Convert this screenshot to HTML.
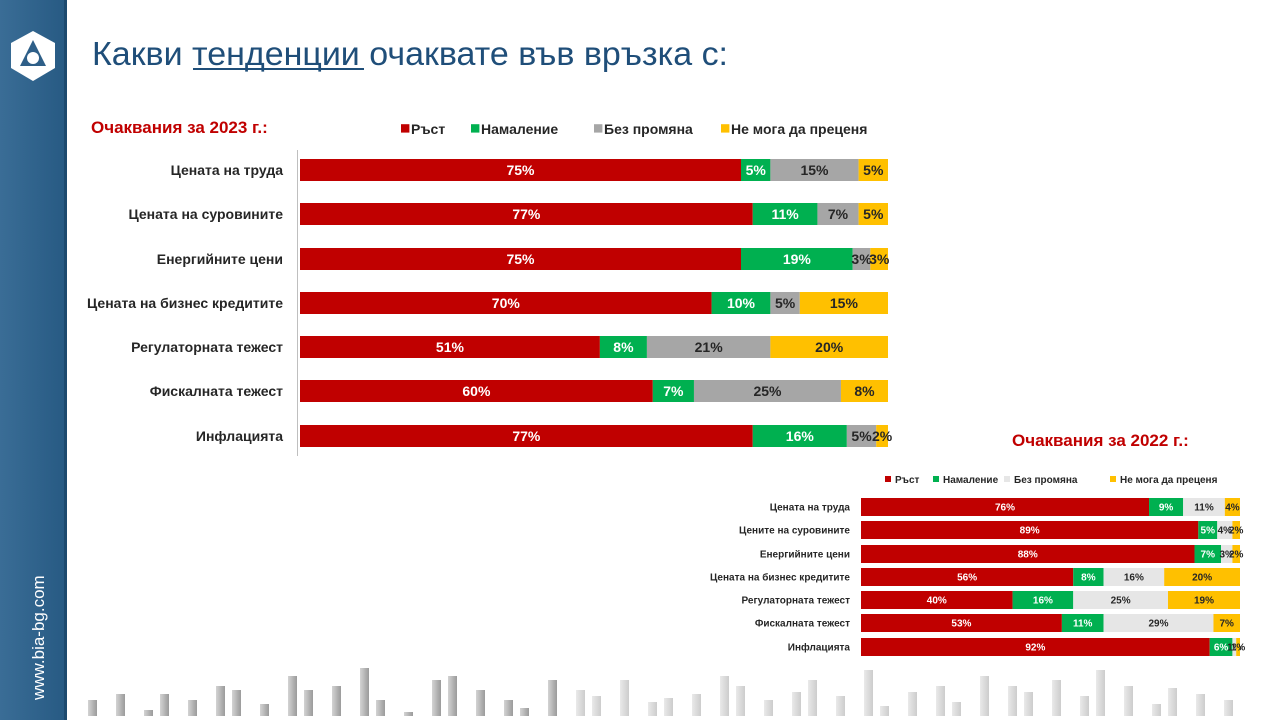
<!DOCTYPE html>
<html><head><meta charset="utf-8"><style>
body{margin:0;width:1280px;height:720px;overflow:hidden;background:#fff;font-family:"Liberation Sans","DejaVu Sans",sans-serif}
</style></head><body>
<svg width="1280" height="720" xmlns="http://www.w3.org/2000/svg" font-family="Liberation Sans, DejaVu Sans, sans-serif">
<defs>
<linearGradient id="sb" x1="0" x2="1"><stop offset="0" stop-color="#3a6d96"/><stop offset="1" stop-color="#275a83"/></linearGradient>
<linearGradient id="gb" x1="0" x2="1"><stop offset="0" stop-color="#cfcfcf"/><stop offset="1" stop-color="#8f8f8f"/></linearGradient>
</defs>
<rect x="0" y="0" width="66" height="720" fill="url(#sb)"/>
<rect x="64" y="0" width="3" height="720" fill="#1d4a6e"/>
<polygon points="33,31 55,43 55,68 33,81 11,68 11,43" fill="#fff"/>
<polygon points="33,40 46,66 20,66" fill="#2e5f88"/>
<circle cx="33" cy="58" r="6" fill="#fff"/>
<text transform="translate(44,700) rotate(-90)" font-size="17" fill="#fff">www.bia-bg.com</text>
<text x="92" y="65" font-size="33" fill="#1f4e79" textLength="636" lengthAdjust="spacingAndGlyphs">Какви тенденции очаквате във връзка с:</text>
<rect x="193" y="68" width="171" height="2" fill="#1f4e79"/>
<text x="91" y="133" font-size="17" font-weight="bold" fill="#c00000">Очаквания за 2023 г.:</text>
<text x="1012" y="446" font-size="17" font-weight="bold" fill="#c00000">Очаквания за 2022 г.:</text>
<g id="deco"></g>
<g id="top"></g>
<g id="bot"></g>
</svg>
<script>
var NS="http://www.w3.org/2000/svg";
function el(p,t,a,txt){var e=document.createElementNS(NS,t);for(var k in a)e.setAttribute(k,a[k]);if(txt!=null)e.textContent=txt;p.appendChild(e);return e;}
var cols=["#c00000","#00b050","#a6a6a6","#ffc000"];
function chart(g,x0,w,ys,h,labels,data,fs,gray,lx,leg,legy){
 var G=document.getElementById(g);
 var lc=cols.slice();lc[2]=gray;
 var names=["Ръст","Намаление","Без промяна","Не мога да преценя"];
 for(var i=0;i<4;i++){el(G,"rect",{x:leg[i]-10,y:legy-fs*0.7,width:fs*0.6,height:fs*0.6,fill:lc[i]});
  el(G,"text",{x:leg[i],y:legy,"font-size":fs,"font-weight":"bold",fill:"#262626"},names[i]);}
 for(var r=0;r<data.length;r++){var d=data[r],s=d.reduce(function(a,b){return a+b},0),x=x0;
  el(G,"text",{x:lx,y:ys[r]+fs*0.35,"font-size":fs,"font-weight":"bold",fill:"#262626","text-anchor":"end"},labels[r]);
  for(var i=0;i<4;i++){var ww=d[i]/s*w;
   el(G,"rect",{x:x,y:ys[r]-h/2,width:ww,height:h,fill:lc[i]});
   el(G,"text",{x:x+ww/2,y:ys[r]+fs*0.35,"font-size":fs,"font-weight":"bold","text-anchor":"middle",fill:(i<2?"#fff":"#262626")},d[i]+"%");
   x+=ww;}
 }
}
el(document.getElementById("top"),"rect",{x:297,y:150,width:1,height:306,fill:"#bfbfbf"});
chart("top",300,588,[170,214,259,303,347,391,436],22,
["Цената на труда","Цената на суровините","Енергийните цени","Цената на бизнес кредитите","Регулаторната тежест","Фискалната тежест","Инфлацията"],
[[75,5,15,5],[77,11,7,5],[75,19,3,3],[70,10,5,15],[51,8,21,20],[60,7,25,8],[77,16,5,2]],14,"#a6a6a6",283,[411,481,604,731],134);
chart("bot",861,379,[507,530,554,577,600,623,647],18,
["Цената на труда","Цените на суровините","Енергийните цени","Цената на бизнес кредитите","Регулаторната тежест","Фискалната тежест","Инфлацията"],
[[76,9,11,4],[89,5,4,2],[88,7,3,2],[56,8,16,20],[40,16,25,19],[53,11,29,7],[92,6,1,1]],10,"#e6e6e6",850,[895,943,1014,1120],483);
var D=document.getElementById("deco");
var hs=[16,22,6,22,16,30,26,12,40,26,30,48,16,4,36,40,26,16,8,36,26,20,36,14,18,22,40,30,16,24,36,20,46,10,24,30,14,40,30,24,36,20,46,30,12,28,22,16];
for(var i=0;i<hs.length;i++){var x=88+i*24+(i%3)*4;el(D,"rect",{x:x,y:716-hs[i],width:9,height:hs[i],fill:"url(#gb)",opacity:(i<20?0.9:0.45)});}
</script>
</body></html>
